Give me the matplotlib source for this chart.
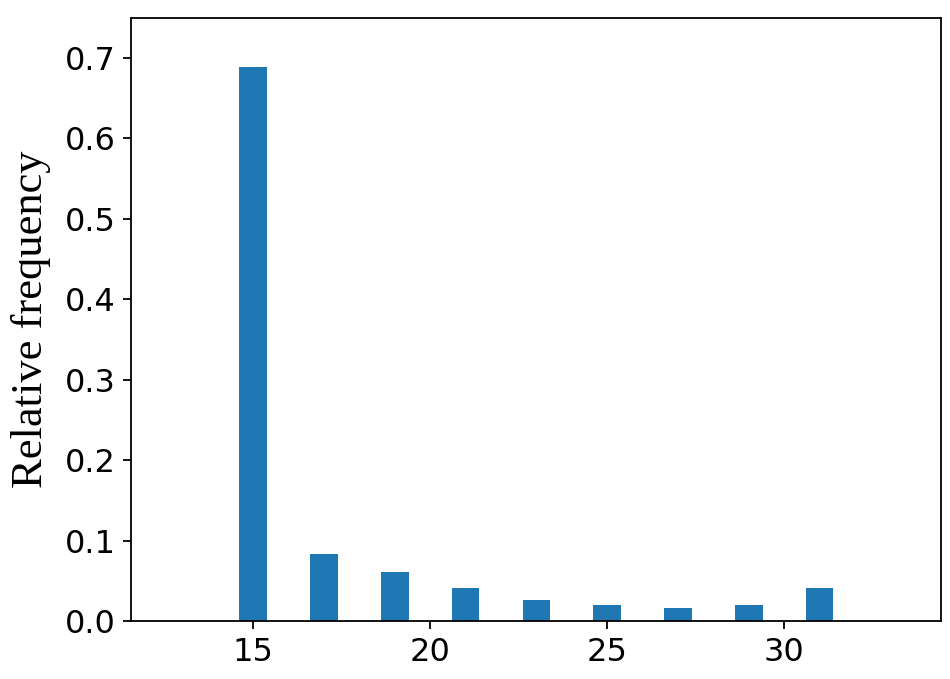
import matplotlib
matplotlib.use('Agg')
import matplotlib.pyplot as plt

values = [15, 17, 19, 21, 23, 25, 27, 29, 31]
freq = [0.6887, 0.083, 0.061, 0.0407, 0.026, 0.0199, 0.0162, 0.0199, 0.0407]

fig = plt.figure(figsize=(9.5, 6.79), dpi=100)
ax = fig.add_axes([0.1379, 0.0854, 0.8526, 0.8881])

ax.bar(values, freq, width=0.78, color='#1f77b4')
ax.set_xlim(11.55, 34.43)
ax.set_ylim(0, 0.7494)
ax.set_xticks([15, 20, 25, 30])
ax.set_yticks([0.0, 0.1, 0.2, 0.3, 0.4, 0.5, 0.6, 0.7])
ax.tick_params(labelsize=23, length=5.6, width=1.3, pad=5.6)
for s in ax.spines.values():
    s.set_linewidth(1.3)
ax.set_ylabel('Relative frequency', fontsize=32, family='Liberation Serif', labelpad=10)

fig.savefig('out.png', dpi=100)
